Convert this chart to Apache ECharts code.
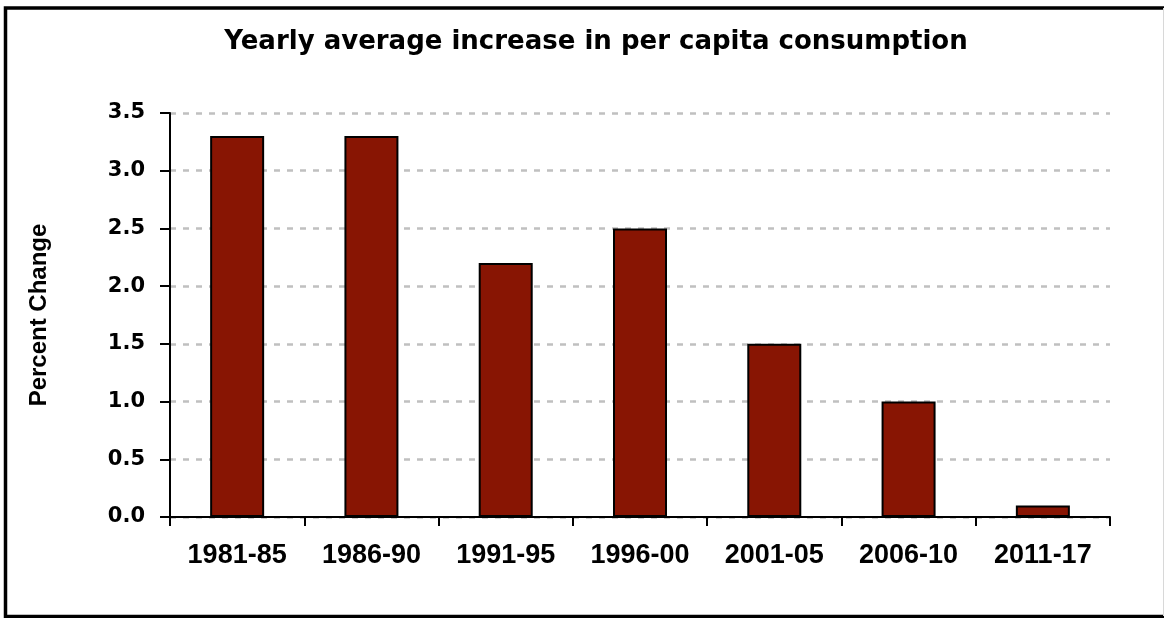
<!DOCTYPE html>
<html>
<head>
<meta charset="utf-8">
<script src="https://cdn.jsdelivr.net/npm/echarts@6/dist/echarts.min.js"></script>
<style>
  html, body { margin: 0; padding: 0; background: #fff; }
  #chart { width: 1164px; height: 618px; }
</style>
</head>
<body>
<div id="chart"></div>
<script>
// Periods and the yearly average increase in per capita consumption (%)
const periods = ['1981-85', '1986-90', '1991-95', '1996-00', '2001-05', '2006-10', '2011-17'];
const percentChange = [3.3, 3.3, 2.2, 2.5, 1.5, 1.0, 0.1];
const yTicks = [0, 0.5, 1.0, 1.5, 2.0, 2.5, 3.0, 3.5];

const chart = echarts.init(document.getElementById('chart'), null, { renderer: 'canvas' });

chart.setOption({
  backgroundColor: '#ffffff',
  animation: false,
  title: {
    text: 'Yearly average increase in per capita consumption',
    left: 591,
    top: 24,
    textAlign: 'center',
    textStyle: {
      fontFamily: 'DejaVu Sans',
      fontWeight: 'bold',
      fontSize: 26,
      color: '#000'
    }
  },
  graphic: [
    {
      type: 'rect',
      shape: { x: 5.5, y: 8, width: 1170, height: 608.5 },
      style: { fill: 'none', stroke: '#000', lineWidth: 3.5 },
      silent: true
    },
    {
      type: 'line',
      shape: { x1: 1163.5, y1: 8, x2: 1163.5, y2: 616 },
      style: { stroke: '#d8d8d8', lineWidth: 1 },
      silent: true
    }
  ],
  grid: { left: 170, right: 54, top: 113, bottom: 101 },
  xAxis: {
    type: 'category',
    data: periods,
    boundaryGap: true,
    axisLine: { show: true, lineStyle: { color: '#000', width: 2 } },
    axisTick: { show: true, length: 9, lineStyle: { color: '#000', width: 2 } },
    axisLabel: {
      margin: 25,
      fontFamily: 'Liberation Sans',
      fontWeight: 'bold',
      fontSize: 27,
      color: '#000'
    },
    splitLine: { show: false }
  },
  yAxis: {
    type: 'value',
    min: yTicks[0],
    max: yTicks[yTicks.length - 1],
    interval: 0.5,
    name: 'Percent Change',
    nameLocation: 'middle',
    nameGap: 119,
    nameRotate: 90,
    nameTextStyle: {
      fontFamily: 'Liberation Sans',
      fontWeight: 'bold',
      fontSize: 24,
      color: '#000'
    },
    axisLine: { show: true, lineStyle: { color: '#000', width: 2 } },
    axisTick: { show: true, length: 10, lineStyle: { color: '#000', width: 2 } },
    axisLabel: {
      margin: 25,
      fontFamily: 'DejaVu Sans',
      fontWeight: 'bold',
      fontSize: 21,
      color: '#000',
      formatter: v => v.toFixed(1)
    },
    splitLine: {
      show: true,
      lineStyle: { color: '#c0c0c0', width: 2.5, type: [6, 7] }
    }
  },
  series: [{
    type: 'bar',
    data: percentChange,
    barWidth: 54,
    itemStyle: {
      color: '#881503',
      borderColor: '#000',
      borderWidth: 2
    }
  }]
});
</script>
</body>
</html>
